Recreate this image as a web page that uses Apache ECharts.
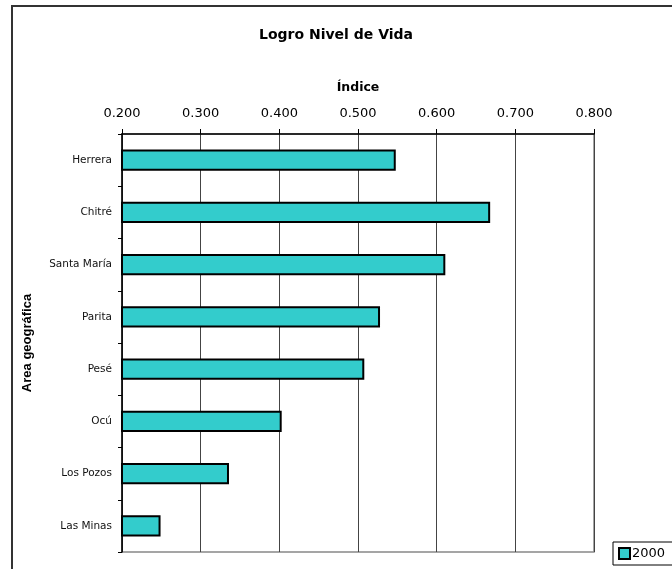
<!DOCTYPE html>
<html>
<head>
<meta charset="utf-8">
<script src="https://cdn.jsdelivr.net/npm/echarts@6/dist/echarts.min.js"></script>
<style>
  html, body { margin: 0; padding: 0; background: #fff; }
  #chart { width: 672px; height: 569px; }
</style>
</head>
<body>
<div id="chart"></div>
<script>
// datos del gráfico
var areas = ["Herrera", "Chitré", "Santa María", "Parita", "Pesé", "Ocú", "Los Pozos", "Las Minas"];
var valores2000 = [0.548, 0.668, 0.611, 0.528, 0.508, 0.403, 0.336, 0.249];
var ejeMin = 0.2;
var ejeMax = 0.8;
var ejePaso = 0.1;

var myChart = echarts.init(document.getElementById("chart"));
var fuente = "DejaVu Sans";

var option = {
  animation: false,
  backgroundColor: "#fff",
  title: {
    text: "Logro Nivel de Vida",
    left: "center",
    top: 23,
    textStyle: { fontFamily: fuente, fontSize: 14, fontWeight: "bold", color: "#000" }
  },
  // marco exterior del área del gráfico
  graphic: [{
    type: "rect",
    shape: { x: 12, y: 6, width: 720, height: 620 },
    style: { fill: null, stroke: "#333", lineWidth: 2 },
    silent: true
  }],
  legend: {
    data: ["2000"],
    left: 613,
    top: 542,
    orient: "vertical",
    padding: [5, 20, 5, 5],
    borderColor: "#000",
    borderWidth: 1,
    backgroundColor: "#fff",
    itemWidth: 11,
    itemHeight: 11,
    itemGap: 0,
    icon: "rect",
    textStyle: { fontFamily: fuente, fontSize: 13, color: "#000", padding: [0, 0, 0, -3] }
  },
  grid: {
    left: 122,
    top: 134,
    right: 78,
    bottom: 17,
    show: true,
    borderColor: "#888",
    borderWidth: 1.5
  },
  xAxis: {
    type: "value",
    position: "top",
    min: ejeMin,
    max: ejeMax,
    interval: ejePaso,
    name: "Índice",
    nameLocation: "middle",
    nameGap: 40,
    nameTextStyle: { fontFamily: fuente, fontSize: 12.5, fontWeight: "bold", color: "#000" },
    axisLine: { show: true, lineStyle: { color: "#000", width: 1.5 } },
    axisTick: { show: true, length: 5, lineStyle: { color: "#000" } },
    axisLabel: {
      margin: 14,
      fontFamily: fuente,
      fontSize: 13,
      color: "#000",
      formatter: function (v) { return v.toFixed(3); }
    },
    splitLine: { show: true, lineStyle: { color: "#444", width: 1 } }
  },
  yAxis: {
    type: "category",
    inverse: true,
    data: areas,
    name: "Area geográfica",
    nameLocation: "middle",
    nameRotate: 90,
    nameGap: 88,
    nameTextStyle: { fontFamily: "Liberation Sans", fontSize: 13, fontWeight: "bold", color: "#000" },
    axisLine: { show: true, lineStyle: { color: "#000", width: 1.5 } },
    axisTick: { show: true, length: 4, lineStyle: { color: "#000" } },
    axisLabel: { margin: 10, fontFamily: fuente, fontSize: 10.5, color: "#111" },
    splitLine: { show: false }
  },
  series: [{
    name: "2000",
    type: "bar",
    data: valores2000,
    barCategoryGap: "59%",
    itemStyle: { color: "#33CCCC", borderColor: "#000", borderWidth: 2 }
  }]
};

myChart.setOption(option);
</script>
</body>
</html>
